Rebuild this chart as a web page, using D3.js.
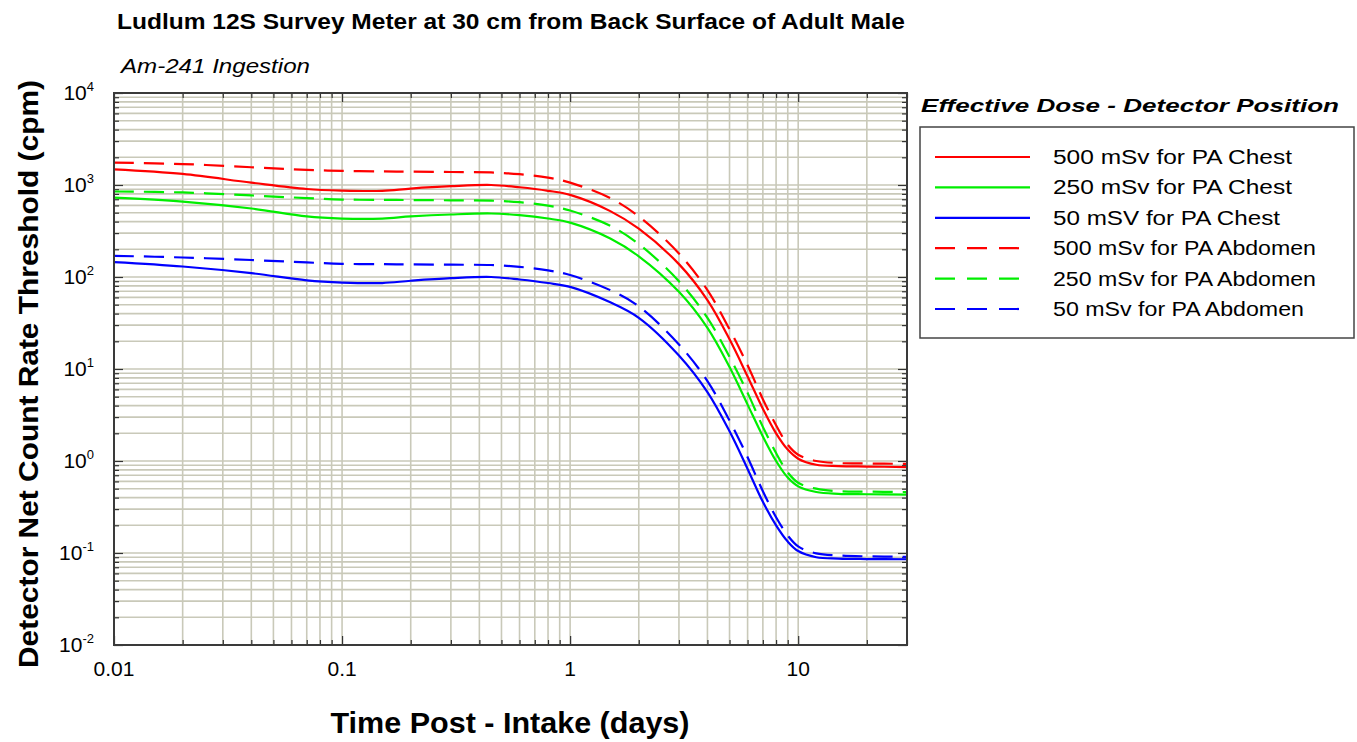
<!DOCTYPE html>
<html>
<head>
<meta charset="utf-8">
<script src="https://cdn.jsdelivr.net/npm/d3@7"></script>
<style>
  body { margin: 0; background: #fff; }
  svg { display: block; }
  text { font-family: "Liberation Sans", Arial, sans-serif; fill: #000; }
</style>
</head>
<body>
<svg id="chart" width="1357" height="742"></svg>
<script>
// values (days, cpm)
var times = [0.01, 0.02, 0.04, 0.07, 0.1, 0.15, 0.2, 0.3, 0.45, 0.6, 0.8, 1, 1.5, 2, 3, 4, 5, 6, 7, 8, 9, 10, 12, 15, 20, 30];

var chest500 = [1480, 1320, 1060, 905, 870, 865, 915, 970, 1000, 945, 865, 780, 520, 335, 138, 56, 21, 8.3, 3.7, 2.0, 1.33, 1.06, 0.91, 0.88, 0.87, 0.86];
var chest250 = [730, 660, 555, 455, 432, 432, 455, 478, 490, 470, 432, 390, 262, 168, 69, 28, 10.5, 4.1, 1.85, 1.0, 0.66, 0.53, 0.46, 0.44, 0.435, 0.43];
var chest50  = [145, 130, 110, 92, 87, 86, 91, 97, 100, 94, 86, 78, 53, 36, 14, 5.6, 2.1, 0.82, 0.36, 0.2, 0.133, 0.105, 0.09, 0.087, 0.086, 0.0855];
var abd500   = [1750, 1690, 1560, 1460, 1425, 1405, 1395, 1385, 1370, 1310, 1205, 1060, 720, 455, 180, 72, 27, 11, 4.7, 2.45, 1.5, 1.17, 1.0, 0.95, 0.94, 0.93];
var abd250   = [850, 830, 770, 720, 695, 690, 686, 682, 676, 650, 597, 528, 360, 228, 90, 36, 13.5, 5.5, 2.35, 1.22, 0.75, 0.58, 0.5, 0.47, 0.465, 0.46];
var abd50    = [170, 163, 153, 144, 139, 138, 137, 136, 135, 129, 118, 105, 72, 48, 18.5, 7.4, 2.75, 1.1, 0.47, 0.245, 0.155, 0.118, 0.099, 0.094, 0.092, 0.091];

var seriesNames = ["500 mSv for PA Chest", "250 mSv for PA Chest", "50 mSV for PA Chest",
                   "500 mSv for PA Abdomen", "250 mSv for PA Abdomen", "50 mSv for PA Abdomen"];
var seriesValues = [chest500, chest250, chest50, abd500, abd250, abd50];

var xDecades = [0.01, 0.1, 1, 10];
var xTickLabels = ["0.01", "0.1", "1", "10"];
var yDecades = [1e-2, 1e-1, 1, 10, 100, 1000, 10000];
var yTickExponents = ["-2", "-1", "0", "1", "2", "3", "4"];

// styles
var colors = ["#ff0000", "#00ee00", "#0000ff", "#ff0000", "#00ee00", "#0000ff"];
var dashed = [false, false, false, true, true, true];

(function () {
  var svg = d3.select("#chart");
  var pLeft = 114, pRight = 907, pTop = 93, pBottom = 645;

  var x = d3.scaleLog().domain([0.01, 30]).range([pLeft, pRight]);
  var y = d3.scaleLog().domain([0.01, 10000]).range([pBottom, pTop]);

  // minor values 1..9 per decade inside the domain
  function minorVals(decades, dom) {
    var out = [];
    decades.forEach(function (d) {
      for (var k = 1; k <= 9; k++) {
        var v = +(d * k).toPrecision(6);
        if (v >= dom[0] && v <= dom[1]) out.push(v);
      }
    });
    return out;
  }
  var xGrid = minorVals(xDecades, x.domain());
  var yGrid = minorVals(yDecades, y.domain());

  // grid
  var grid = svg.append("g").attr("stroke", "#c9c9b9").attr("stroke-width", 1.6);
  grid.selectAll("line.vx").data(xGrid).enter().append("line")
    .attr("x1", function (d) { return x(d); }).attr("x2", function (d) { return x(d); })
    .attr("y1", pTop).attr("y2", pBottom);
  grid.selectAll("line.hy").data(yGrid).enter().append("line")
    .attr("y1", function (d) { return y(d); }).attr("y2", function (d) { return y(d); })
    .attr("x1", pLeft).attr("x2", pRight);

  // inward ticks on all four sides, decades a bit longer
  function isDecade(v) { return Math.abs(Math.log10(v) - Math.round(Math.log10(v))) < 1e-6; }
  var axisG = svg.append("g");
  axisG.append("g").attr("transform", "translate(0," + pBottom + ")")
    .call(d3.axisBottom(x).tickValues(xGrid).tickSizeInner(-5).tickSizeOuter(0).tickFormat(""));
  axisG.append("g").attr("transform", "translate(0," + pTop + ")")
    .call(d3.axisTop(x).tickValues(xGrid).tickSizeInner(-5).tickSizeOuter(0).tickFormat(""));
  axisG.append("g").attr("transform", "translate(" + pLeft + ",0)")
    .call(d3.axisLeft(y).tickValues(yGrid).tickSizeInner(-5).tickSizeOuter(0).tickFormat(""));
  axisG.append("g").attr("transform", "translate(" + pRight + ",0)")
    .call(d3.axisRight(y).tickValues(yGrid).tickSizeInner(-5).tickSizeOuter(0).tickFormat(""));
  axisG.selectAll(".domain").remove();
  axisG.selectAll(".tick line").attr("stroke", "#333").attr("stroke-width", 1.2)
    .filter(function (d) { return isDecade(d); })
    .each(function () {
      var t = d3.select(this);
      if (t.attr("y2") && +t.attr("y2") !== 0) t.attr("y2", +t.attr("y2") * 1.8);
      if (t.attr("x2") && +t.attr("x2") !== 0) t.attr("x2", +t.attr("x2") * 1.8);
    });

  // curves
  svg.append("clipPath").attr("id", "plotClip").append("rect")
    .attr("x", pLeft).attr("y", pTop).attr("width", pRight - pLeft).attr("height", pBottom - pTop);

  var line = d3.line()
    .x(function (d) { return x(d[0]); })
    .y(function (d) { return y(d[1]); })
    .curve(d3.curveCatmullRom.alpha(0.5));

  var order = [3, 4, 5, 0, 1, 2];
  var curves = svg.append("g").attr("clip-path", "url(#plotClip)");
  order.forEach(function (i) {
    curves.append("path")
      .datum(times.map(function (t, j) { return [t, seriesValues[i][j]]; }))
      .attr("d", line)
      .attr("fill", "none")
      .attr("stroke", colors[i])
      .attr("stroke-width", 2.2)
      .attr("stroke-dasharray", dashed[i] ? "20,10" : null);
  });

  // frame
  svg.append("rect").attr("x", pLeft).attr("y", pTop)
    .attr("width", pRight - pLeft).attr("height", pBottom - pTop)
    .attr("fill", "none").attr("stroke", "#3a3a3a").attr("stroke-width", 2);

  // x tick labels
  svg.append("g").selectAll("text").data(xDecades).enter().append("text")
    .attr("x", function (d) { return x(d); })
    .attr("y", 676)
    .attr("text-anchor", "middle")
    .style("font-size", "21px")
    .text(function (d, i) { return xTickLabels[i]; });

  // y tick labels 10^n
  var yl = svg.append("g").selectAll("text").data(yDecades).enter().append("text")
    .attr("x", 94)
    .attr("y", function (d) { return y(d) + 7; })
    .attr("text-anchor", "end")
    .style("font-size", "21px");
  yl.append("tspan").text("10");
  yl.append("tspan").attr("dy", "-9").style("font-size", "13px")
    .text(function (d, i) { return yTickExponents[i]; });

  // titles
  svg.append("text").attr("x", 117).attr("y", 29)
    .style("font-weight", "bold").style("font-size", "22px")
    .attr("textLength", 788).attr("lengthAdjust", "spacingAndGlyphs")
    .text("Ludlum 12S Survey Meter at 30 cm from Back Surface of Adult Male");

  svg.append("text").attr("x", 121).attr("y", 73)
    .style("font-style", "italic").style("font-size", "21px")
    .attr("textLength", 189).attr("lengthAdjust", "spacingAndGlyphs")
    .text("Am-241 Ingestion");

  svg.append("text").attr("transform", "translate(38,374) rotate(-90)")
    .attr("text-anchor", "middle")
    .style("font-weight", "bold").style("font-size", "28px")
    .attr("textLength", 588).attr("lengthAdjust", "spacingAndGlyphs")
    .text("Detector Net Count Rate Threshold (cpm)");

  svg.append("text").attr("x", 510).attr("y", 733)
    .attr("text-anchor", "middle")
    .style("font-weight", "bold").style("font-size", "30px")
    .attr("textLength", 359).attr("lengthAdjust", "spacingAndGlyphs")
    .text("Time Post - Intake (days)");

  // legend
  svg.append("text").attr("x", 921).attr("y", 112)
    .style("font-weight", "bold").style("font-style", "italic").style("font-size", "19px")
    .attr("textLength", 418).attr("lengthAdjust", "spacingAndGlyphs")
    .text("Effective Dose - Detector Position");

  svg.append("rect").attr("x", 920).attr("y", 127).attr("width", 434).attr("height", 211)
    .attr("fill", "#fff").attr("stroke", "#444").attr("stroke-width", 1.5);

  var rowY = d3.scaleLinear().domain([0, 5]).range([157, 309]);
  var leg = svg.append("g").selectAll("g").data(seriesNames).enter().append("g")
    .attr("transform", function (d, i) { return "translate(0," + rowY(i) + ")"; });
  leg.append("line")
    .attr("x1", 935)
    .attr("x2", function (d, i) { return dashed[i] ? 1021 : 1030; })
    .attr("y1", 0).attr("y2", 0)
    .attr("stroke", function (d, i) { return colors[i]; })
    .attr("stroke-width", 2.2)
    .attr("stroke-dasharray", function (d, i) { return dashed[i] ? "20,12" : null; });
  leg.append("text")
    .attr("x", 1053).attr("y", 7)
    .style("font-size", "20px")
    .attr("textLength", function (d) { return d.length * 11.95; })
    .attr("lengthAdjust", "spacingAndGlyphs")
    .text(function (d) { return d; });
})();
</script>
</body>
</html>
